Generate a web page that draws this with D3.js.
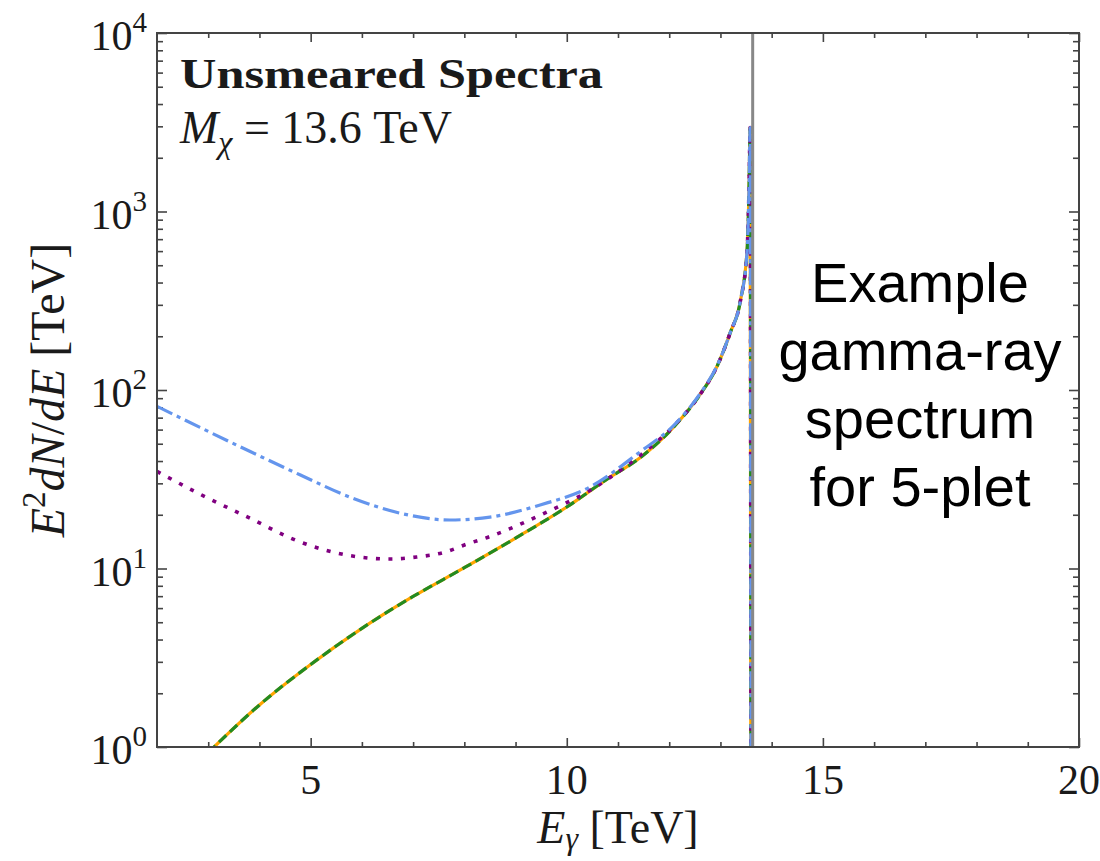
<!DOCTYPE html>
<html>
<head>
<meta charset="utf-8">
<script src="https://cdn.jsdelivr.net/npm/d3@7"></script>
<style>
  html, body { margin: 0; padding: 0; background: #fff; }
  svg { display: block; }
  .serif { font-family: "Liberation Serif", "DejaVu Serif", serif; fill: #1a1a1a; }
  .sans { font-family: "Liberation Sans", Arial, sans-serif; fill: #000; }
</style>
</head>
<body>
<svg id="chart" width="1100" height="861"></svg>
<script>
// photon energy (TeV) and E^2 dN/dE (TeV)
const eLine = [3.0, 4, 5, 6, 7, 8, 9, 10, 10.78, 11.43, 12.08, 12.61, 12.93, 13.19, 13.39, 13.52, 13.56, 13.58, 13.6];
const orangeVals = [0.93, 1.72, 2.9, 4.62, 6.97, 10.1, 14.8, 22.1, 31.6, 41.7, 61.7, 95, 135, 209, 316, 603, 1445, 2950, 0.01];
const greenVals = [0.93, 1.72, 2.9, 4.62, 6.97, 10.1, 14.8, 22.1, 31.6, 41.7, 61.7, 95, 135, 209, 316, 603, 1445, 2950, 0.01];

const ePurple = [2.0, 2.84, 3.82, 4.79, 5.77, 6.55, 7.07, 7.6, 8.05, 8.5, 9.48, 10.46, 11.43, 12.08, 12.61, 12.93, 13.19, 13.39, 13.52, 13.56, 13.58, 13.6];
const purpleVals = [35, 26.1, 19.1, 14.1, 11.8, 11.3, 11.6, 12.3, 13.7, 15.1, 19.9, 27.5, 43, 62.5, 95, 135, 209, 316, 603, 1445, 2950, 0.01];

const eBlue = [2.0, 2.84, 3.82, 4.79, 5.77, 6.75, 7.72, 8.5, 9.48, 10.46, 11.43, 12.08, 12.61, 12.93, 13.19, 13.39, 13.52, 13.56, 13.58, 13.6];
const blueVals = [81, 61.7, 45.2, 33.5, 25.1, 20.4, 18.7, 19.4, 22.7, 28.7, 45, 63, 96, 136, 209, 316, 603, 1445, 2950, 0.01];

const xMajor = [5, 10, 15, 20];
const xMinor = [3, 4, 6, 7, 8, 9, 11, 12, 13, 14, 16, 17, 18, 19];
const yMajor = [1, 10, 100, 1000, 10000];
const yMinor = [];
[1, 10, 100, 1000].forEach(d => { for (let k = 2; k <= 9; k++) yMinor.push(d * k); });
const massLine = 13.6;

const margin = { top: 33, right: 21, bottom: 114, left: 157 };
const width = 1100, height = 861;

const svg = d3.select("#chart");

const x = d3.scaleLinear().domain([2, 20]).range([margin.left, width - margin.right]);
const y = d3.scaleLog().domain([1, 1e4]).range([height - margin.bottom, margin.top]);

svg.append("clipPath").attr("id", "plot-clip")
  .append("rect")
  .attr("x", x(2)).attr("y", y(1e4))
  .attr("width", x(20) - x(2)).attr("height", y(1) - y(1e4));

// ticks, pointing inward on all four sides
function tickAxis(axis, values, size) {
  return axis.tickValues(values).tickSize(size).tickFormat("");
}
const axes = svg.append("g").attr("class", "axes");
axes.append("g").attr("transform", `translate(0,${y(1)})`).call(tickAxis(d3.axisBottom(x), xMajor, -9));
axes.append("g").attr("transform", `translate(0,${y(1)})`).call(tickAxis(d3.axisBottom(x), xMinor, -5));
axes.append("g").attr("transform", `translate(0,${y(1e4)})`).call(tickAxis(d3.axisTop(x), xMajor, -9));
axes.append("g").attr("transform", `translate(0,${y(1e4)})`).call(tickAxis(d3.axisTop(x), xMinor, -5));
axes.append("g").attr("transform", `translate(${x(2)},0)`).call(tickAxis(d3.axisLeft(y), yMajor, -10));
axes.append("g").attr("transform", `translate(${x(2)},0)`).call(tickAxis(d3.axisLeft(y), yMinor, -6));
axes.append("g").attr("transform", `translate(${x(20)},0)`).call(tickAxis(d3.axisRight(y), yMajor, -10));
axes.append("g").attr("transform", `translate(${x(20)},0)`).call(tickAxis(d3.axisRight(y), yMinor, -6));
axes.selectAll(".domain").remove();
axes.selectAll(".tick line").attr("stroke", "#444").attr("stroke-width", 1.6);

// curves
const line = d3.line()
  .x(d => x(d[0]))
  .y(d => y(d[1]))
  .curve(d3.curveMonotoneX);

const series = [
  { e: eLine, v: orangeVals, color: "#FFA500", dash: null, w: 3.2 },
  { e: eLine, v: greenVals, color: "#228B22", dash: "10,5", w: 3.2 },
  { e: ePurple, v: purpleVals, color: "#800080", dash: "4,8.5", w: 3.6 },
  { e: eBlue, v: blueVals, color: "#6495ED", dash: "17,5,4,5", w: 3.2 }
];

const curves = svg.append("g").attr("clip-path", "url(#plot-clip)");
series.forEach(s => {
  curves.append("path")
    .datum(s.e.map((e, i) => [e, s.v[i]]))
    .attr("fill", "none")
    .attr("stroke", s.color)
    .attr("stroke-width", s.w)
    .attr("stroke-dasharray", s.dash)
    .attr("d", line);
});

// DM mass marker
svg.append("line")
  .attr("x1", x(massLine) + 1.5).attr("x2", x(massLine) + 1.5)
  .attr("y1", y(1e4)).attr("y2", y(1))
  .attr("stroke", "#888")
  .attr("stroke-width", 3);

// frame
svg.append("rect")
  .attr("x", x(2)).attr("y", y(1e4))
  .attr("width", x(20) - x(2)).attr("height", y(1) - y(1e4))
  .attr("fill", "none")
  .attr("stroke", "#444")
  .attr("stroke-width", 2);

// tick labels
svg.append("g").selectAll("text")
  .data(xMajor)
  .join("text")
  .attr("class", "serif")
  .attr("x", d => x(d))
  .attr("y", 794)
  .attr("text-anchor", "middle")
  .attr("font-size", 42)
  .text(d => d);

const yLabels = svg.append("g").selectAll("text")
  .data(yMajor)
  .join("text")
  .attr("class", "serif")
  .attr("x", 147)
  .attr("y", d => y(d) + 17)
  .attr("text-anchor", "end")
  .attr("font-size", 42);
yLabels.append("tspan").text("10");
yLabels.append("tspan").attr("font-size", 29).attr("dy", -18).text(d => Math.round(Math.log10(d)));

// axis titles
const xTitle = svg.append("text")
  .attr("class", "serif")
  .attr("x", 618).attr("y", 843)
  .attr("text-anchor", "middle")
  .attr("font-size", 46);
xTitle.append("tspan").attr("font-style", "italic").text("E");
xTitle.append("tspan").attr("font-style", "italic").attr("font-size", 32).attr("dy", 6).text("γ");
xTitle.append("tspan").attr("dy", -6).text(" [TeV]");

const yTitle = svg.append("text")
  .attr("class", "serif")
  .attr("transform", "translate(64,390) rotate(-90)")
  .attr("text-anchor", "middle")
  .attr("font-size", 48);
yTitle.append("tspan").attr("font-style", "italic").text("E");
yTitle.append("tspan").attr("font-size", 33).attr("dy", -19).text("2");
yTitle.append("tspan").attr("font-style", "italic").attr("dy", 19).text("dN");
yTitle.append("tspan").text("/");
yTitle.append("tspan").attr("font-style", "italic").text("dE");
yTitle.append("tspan").text(" [TeV]");

// in-plot annotation
svg.append("text")
  .attr("class", "serif")
  .attr("x", 180).attr("y", 88)
  .attr("font-size", 42)
  .attr("font-weight", "bold")
  .attr("textLength", 423)
  .attr("lengthAdjust", "spacingAndGlyphs")
  .text("Unsmeared Spectra");

const massText = svg.append("text")
  .attr("class", "serif")
  .attr("x", 180).attr("y", 143)
  .attr("font-size", 46);
massText.append("tspan").attr("font-style", "italic").text("M");
massText.append("tspan").attr("font-style", "italic").attr("font-size", 32).attr("dy", 10).text("χ");
massText.append("tspan").attr("dy", -10).text(" = 13.6 TeV");

// side note
const noteLines = ["Example", "gamma-ray", "spectrum", "for 5-plet"];
svg.append("g").selectAll("text")
  .data(noteLines)
  .join("text")
  .attr("class", "sans")
  .attr("x", 920)
  .attr("y", (d, i) => 302 + i * 68)
  .attr("text-anchor", "middle")
  .attr("font-size", 56)
  .text(d => d);
</script>
</body>
</html>
